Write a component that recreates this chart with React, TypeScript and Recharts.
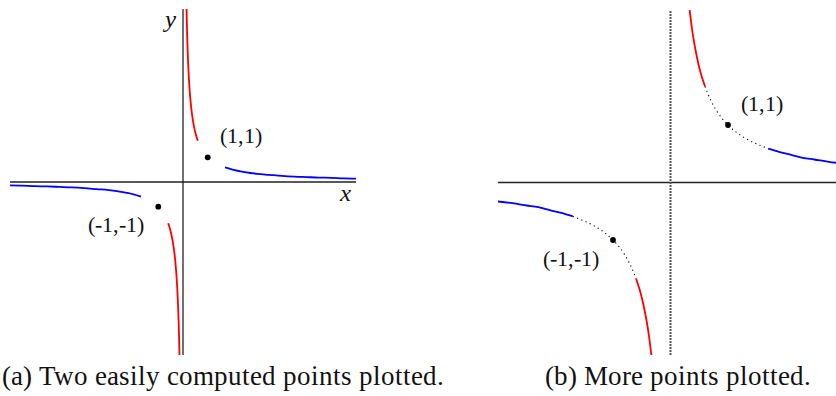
import React from "react";
import { ComposedChart, Line, XAxis, YAxis, ReferenceLine, ReferenceDot } from "recharts";

type Pt = [number, number];

// panel (a): y = 1/x, only the near-axis (red) and far (blue) pieces
const redUpperA: Pt[] = [
  [0.143, 7], [0.15, 6.67], [0.16, 6.25], [0.175, 5.71], [0.19, 5.26], [0.21, 4.76],
  [0.235, 4.26], [0.265, 3.77], [0.3, 3.33], [0.34, 2.94], [0.39, 2.56], [0.45, 2.22],
  [0.52, 1.92], [0.6, 1.67],
];
const blueUpperA: Pt[] = [
  [1.7, 0.59], [2, 0.5], [2.5, 0.4], [3, 0.33], [3.5, 0.29], [4, 0.25],
  [4.5, 0.22], [5, 0.2], [5.5, 0.18], [6, 0.17], [6.5, 0.15], [7, 0.14],
];
const redLowerA: Pt[] = [
  [-0.6, -1.67], [-0.52, -1.92], [-0.45, -2.22], [-0.39, -2.56], [-0.34, -2.94], [-0.3, -3.33],
  [-0.265, -3.77], [-0.235, -4.26], [-0.21, -4.76], [-0.19, -5.26], [-0.175, -5.71],
  [-0.16, -6.25], [-0.15, -6.67], [-0.143, -7],
];
const blueLowerA: Pt[] = [
  [-7, -0.14], [-6.5, -0.15], [-6, -0.17], [-5.5, -0.18], [-5, -0.2], [-4.5, -0.22],
  [-4, -0.25], [-3.5, -0.29], [-3, -0.33], [-2.5, -0.4], [-2, -0.5], [-1.7, -0.59],
];

// panel (b): same curve on a tighter window, gap filled with a dotted run
const redUpperB: Pt[] = [
  [0.333, 3], [0.35, 2.86], [0.37, 2.7], [0.4, 2.5], [0.43, 2.33], [0.47, 2.13],
  [0.52, 1.92], [0.56, 1.79], [0.6, 1.67],
];
const dotUpperB: Pt[] = [
  [0.6, 1.67], [0.7, 1.43], [0.8, 1.25], [0.9, 1.11], [1, 1], [1.15, 0.87],
  [1.3, 0.77], [1.5, 0.67], [1.7, 0.59],
];
const blueUpperB: Pt[] = [
  [1.7, 0.59], [1.9, 0.53], [2.1, 0.48], [2.3, 0.43], [2.5, 0.4], [2.75, 0.36], [3, 0.33],
];
const blueLowerB: Pt[] = [
  [-3, -0.33], [-2.75, -0.36], [-2.5, -0.4], [-2.3, -0.43], [-2.1, -0.48], [-1.9, -0.53], [-1.7, -0.59],
];
const dotLowerB: Pt[] = [
  [-1.7, -0.59], [-1.5, -0.67], [-1.3, -0.77], [-1.15, -0.87], [-1, -1], [-0.9, -1.11],
  [-0.8, -1.25], [-0.7, -1.43], [-0.6, -1.67],
];
const redLowerB: Pt[] = [
  [-0.6, -1.67], [-0.56, -1.79], [-0.52, -1.92], [-0.47, -2.13], [-0.43, -2.33],
  [-0.4, -2.5], [-0.37, -2.7], [-0.35, -2.86], [-0.333, -3],
];

const marked: { x: number; y: number; label: string }[] = [
  { x: 1, y: 1, label: "(1,1)" },
  { x: -1, y: -1, label: "(-1,-1)" },
];

// local alias so every label resolves to the installed Times-metric face
const FONT_CSS = `
@font-face { font-family: "PlotSerif"; src: local("Liberation Serif"), local("LiberationSerif"); font-style: normal; }
@font-face { font-family: "PlotSerif"; src: local("Liberation Serif Italic"), local("LiberationSerif-Italic"); font-style: italic; }
`;
const SERIF = '"PlotSerif", "Liberation Serif", serif';
const RED = "#ff0000";
const BLUE = "#0000ff";

const pts = (a: Pt[]) => a.map(([x, y]) => ({ x, y }));

function Curve({ data, color, dashed }: { data: Pt[]; color: string; dashed?: boolean }) {
  return (
    <Line
      data={pts(data)}
      dataKey="y"
      type="monotone"
      stroke={color}
      strokeWidth={dashed ? 1.1 : 1.8}
      strokeDasharray={dashed ? "1.2 3.4" : undefined}
      dot={false}
      activeDot={false}
      isAnimationActive={false}
    />
  );
}

function Marked({ pos }: { pos: { x: number; y: number; label: string } }) {
  const upper = pos.y > 0;
  return (
    <ReferenceDot
      x={pos.x}
      y={pos.y}
      r={2.8}
      ifOverflow="visible"
      shape={(p: any) => (
        <g>
          <circle cx={p.cx} cy={p.cy} r={2.9} fill="#000" />
          <text
            x={upper ? p.cx + 12.5 : p.cx - 14}
            y={upper ? p.cy - 14.5 : p.cy + 25.5}
            textAnchor={upper ? "start" : "end"}
            style={{ fontFamily: SERIF, fontSize: 22 }}
            fill="#111"
          >
            {pos.label}
          </text>
        </g>
      )}
    />
  );
}

function Panel({ lim, size, left, top, dashedY, children }: {
  lim: number; size: number; left: number; top: number; dashedY?: boolean; children: React.ReactNode;
}) {
  return (
    <div style={{ position: "absolute", left, top }}>
      <ComposedChart width={size} height={size} margin={{ top: 0, right: 0, bottom: 0, left: 0 }}>
        <XAxis type="number" dataKey="x" domain={[-lim, lim]} allowDataOverflow hide />
        <YAxis type="number" dataKey="y" domain={[-lim, lim]} allowDataOverflow hide />
        <ReferenceLine y={0} stroke="#222" strokeWidth={1.3} />
        {dashedY
          ? <ReferenceLine x={0} stroke="#555" strokeWidth={2} strokeDasharray="2 1" />
          : <ReferenceLine x={0} stroke="#111" strokeWidth={1.2} />}
        {children}
        {marked.map((m) => <Marked key={m.label} pos={m} />)}
      </ComposedChart>
    </div>
  );
}

// baseline-anchored html text (line-height 1 puts the baseline ~0.84em below the top)
function Caption({ x, base, size, italic, children }: {
  x: number; base: number; size: number; italic?: boolean; children: React.ReactNode;
}) {
  return (
    <div
      style={{
        position: "absolute", left: x, top: base - 0.8375 * size,
        fontFamily: SERIF, fontSize: size, lineHeight: 1, whiteSpace: "nowrap",
        fontStyle: italic ? "italic" : "normal", color: "#111",
      }}
    >
      {children}
    </div>
  );
}

export default function App() {
  return (
    <div style={{ position: "absolute", left: 0, top: 0, width: 836, height: 396, overflow: "hidden", background: "#fff", fontFamily: SERIF }}>
      <style>{FONT_CSS}</style>

      {/* (a) */}
      <Panel lim={7} size={346} left={10.4} top={9.4}>
        <Curve data={redUpperA} color={RED} />
        <Curve data={blueUpperA} color={BLUE} />
        <Curve data={blueLowerA} color={BLUE} />
        <Curve data={redLowerA} color={RED} />
      </Panel>

      {/* (b) */}
      <Panel lim={3} size={345} left={498.2} top={9.8} dashedY>
        <Curve data={redUpperB} color={RED} />
        <Curve data={dotUpperB} color="#000" dashed />
        <Curve data={blueUpperB} color={BLUE} />
        <Curve data={blueLowerB} color={BLUE} />
        <Curve data={dotLowerB} color="#000" dashed />
        <Curve data={redLowerB} color={RED} />
      </Panel>

      <Caption x={165} base={27} size={25} italic>y</Caption>
      <Caption x={340} base={201} size={25} italic>x</Caption>
      <Caption x={2} base={385} size={26.5}>(a) Two easily computed points plotted.</Caption>
      <Caption x={545} base={385} size={26.5}>(b) More points plotted.</Caption>
    </div>
  );
}
